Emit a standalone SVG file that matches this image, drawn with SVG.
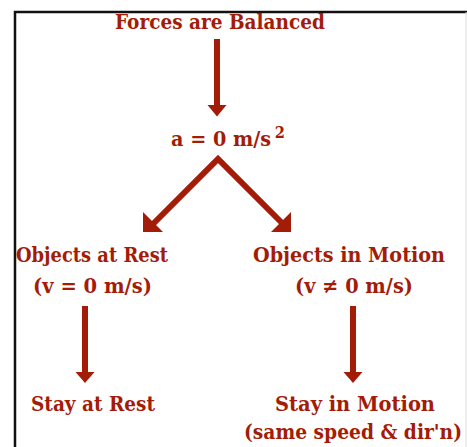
<svg xmlns="http://www.w3.org/2000/svg" width="467" height="447" viewBox="0 0 467 447">
<style>
.t{font-family:"DejaVu Serif","Liberation Serif",serif;font-weight:bold;font-size:21px;fill:#a31c08}
.ln{stroke:#a31c08;stroke-width:6;fill:none}
.hd{fill:#a31c08}
</style>
<rect width="467" height="447" fill="#fff"/>
<g id="frame">
<path d="M15 447 V12 H467" fill="none" stroke="#111" stroke-width="2.5"/>
<line x1="466" y1="12" x2="466" y2="447" stroke="#ddd" stroke-width="1"/>
</g>
<g id="n-forces"><text class="t" x="115" y="29" textLength="210" lengthAdjust="spacingAndGlyphs">Forces are Balanced</text></g>
<g id="n-accel"><text class="t" x="171" y="145.5" textLength="114" lengthAdjust="spacingAndGlyphs">a = 0 m/s<tspan dx="4" dy="-8" font-size="16">2</tspan></text></g>
<g id="n-rest"><text class="t" x="16" y="262" textLength="152" lengthAdjust="spacingAndGlyphs">Objects at Rest</text><text class="t" x="33" y="293" textLength="119" lengthAdjust="spacingAndGlyphs">(v = 0 m/s)</text></g>
<g id="n-motion"><text class="t" x="253" y="262" textLength="192" lengthAdjust="spacingAndGlyphs">Objects in Motion</text><text class="t" x="295" y="293" textLength="118" lengthAdjust="spacingAndGlyphs">(v ≠ 0 m/s)</text></g>
<g id="n-stayrest"><text class="t" x="31" y="410.5" textLength="124" lengthAdjust="spacingAndGlyphs">Stay at Rest</text></g>
<g id="n-staymotion"><text class="t" x="275" y="410.5" textLength="160" lengthAdjust="spacingAndGlyphs">Stay in Motion</text><text class="t" x="244" y="439" font-size="20" textLength="218" lengthAdjust="spacingAndGlyphs">(same speed &amp; dir'n)</text></g>
<g id="connectors">
<line class="ln" x1="217" y1="39" x2="217" y2="107"/>
<polygon class="hd" points="207.5,105 226.5,105 217,116.5"/>
<polyline class="ln" points="152,225 218,159 284,225" stroke-linejoin="miter"/>
<polygon class="hd" points="143,232 143,212 163,232"/>
<polygon class="hd" points="291,232 291,212 271,232"/>
<line class="ln" x1="85" y1="306" x2="85" y2="374"/>
<polygon class="hd" points="75.5,372 94.5,372 85,383"/>
<line class="ln" x1="353" y1="306" x2="353" y2="374"/>
<polygon class="hd" points="343.5,372 362.5,372 353,383"/>
</g>
</svg>
